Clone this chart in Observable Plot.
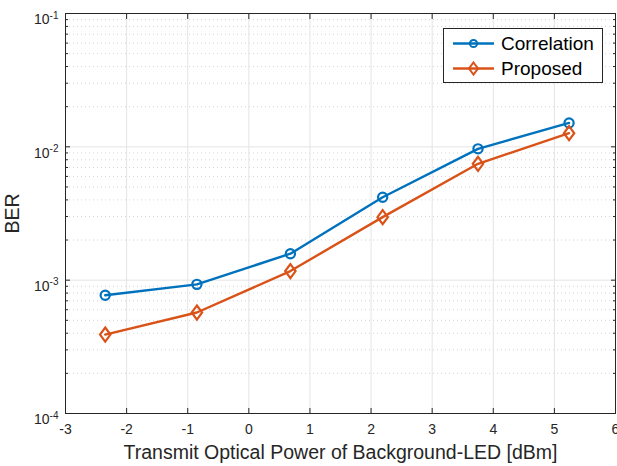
<!DOCTYPE html>
<html>
<head>
<meta charset="utf-8">
<script src="https://cdn.jsdelivr.net/npm/d3@7"></script>
<script src="https://cdn.jsdelivr.net/npm/@observablehq/plot@0.6"></script>
<style>
  html, body { margin: 0; padding: 0; background: #ffffff; }
  #chart svg { display: block; }
</style>
</head>
<body>
<div id="chart"></div>
<script>
// ---- data ----
const powerDbm = [-2.35, -0.85, 0.68, 2.19, 3.75, 5.24];
const correlationBER = [7.7e-4, 9.3e-4, 1.58e-3, 4.19e-3, 9.66e-3, 1.51e-2];
const proposedBER = [3.91e-4, 5.72e-4, 1.17e-3, 2.97e-3, 7.46e-3, 1.265e-2];
const seriesNames = ["Correlation", "Proposed"];
const seriesColors = ["#0072BD", "#D95319"];
const xTicks = [-3, -2, -1, 0, 1, 2, 3, 4, 5, 6];
const yTicks = [1e-4, 1e-3, 1e-2, 1e-1];
const yMinorSteps = [2, 3, 4, 5, 6, 7, 8, 9];
const xLabel = "Transmit Optical Power of Background-LED [dBm]";
const yLabel = "BER";

const yMinor = yTicks.slice(0, -1).flatMap(d => yMinorSteps.map(k => k * d));
const corrRows = powerDbm.map((x, i) => ({x, y: correlationBER[i], s: seriesNames[0]}));
const propRows = powerDbm.map((x, i) => ({x, y: proposedBER[i], s: seriesNames[1]}));
const rows = corrRows.concat(propRows);

// MATLAB-like tall diamond
const tallDiamond = {
  draw(ctx, size) {
    const r = Math.sqrt(size / Math.PI);
    const h = r * 1.35;
    ctx.moveTo(0, -h); ctx.lineTo(r, 0); ctx.lineTo(0, h); ctx.lineTo(-r, 0); ctx.closePath();
  }
};

const W = 617, H = 466;
const axisColor = "#262626";
const font = "'Liberation Sans', Arial, Helvetica, sans-serif";

const chart = Plot.plot({
  width: W, height: H,
  marginLeft: 65, marginRight: 2, marginTop: 13, marginBottom: 53,
  style: {fontFamily: font, fontSize: "14px", color: axisColor, background: "#ffffff", overflow: "visible"},
  x: {domain: [-3, 6]},
  y: {type: "log", domain: [1e-4, 1e-1]},
  color: {domain: seriesNames, range: seriesColors},
  marks: [
    Plot.ruleY(yMinor, {stroke: "#d4d4d4", strokeDasharray: "1,3"}),
    Plot.ruleX(xTicks, {stroke: "#e4e4e4"}),
    Plot.ruleY(yTicks, {stroke: "#e4e4e4"}),
    Plot.line(rows, {x: "x", y: "y", z: "s", stroke: "s", strokeWidth: 2.4}),
    Plot.dot(corrRows, {x: "x", y: "y", stroke: "s", r: 4.6, strokeWidth: 2.2, symbol: "circle", fill: "none"}),
    Plot.dot(propRows, {x: "x", y: "y", stroke: "s", r: 5.2, strokeWidth: 2.2, symbol: tallDiamond, fill: "none"}),
    Plot.frame({stroke: axisColor}),
    Plot.axisX({ticks: xTicks, tickSize: -5, tickPadding: 16, tickFormat: d => String(d),
      fontSize: 14, label: xLabel, labelAnchor: "center", labelOffset: 45, labelArrow: false, stroke: axisColor}),
    Plot.axisX({anchor: "top", ticks: xTicks, tickSize: -5, tickFormat: () => "", label: null, stroke: axisColor}),
    Plot.axisY({ticks: yTicks, tickSize: -5, tickPadding: 12, tickFormat: d => "10^" + Math.round(Math.log10(d)),
      fontSize: 14, label: yLabel, labelAnchor: "center", labelOffset: 60, labelArrow: false, stroke: axisColor}),
    Plot.axisY({ticks: yMinor, tickSize: -3, tickFormat: () => "", label: null, stroke: axisColor}),
    Plot.axisY({anchor: "right", ticks: yTicks, tickSize: -5, tickFormat: () => "", label: null, stroke: axisColor}),
    Plot.axisY({anchor: "right", ticks: yMinor, tickSize: -3, tickFormat: () => "", label: null, stroke: axisColor})
  ]
});

const svg = d3.select(chart);
// axis label font size
svg.selectAll('g[aria-label="x-axis label"] text, g[aria-label="y-axis label"] text')
  .style("font-size", "19.5px");

// superscript exponents on y tick labels
svg.selectAll('g[aria-label="y-axis tick label"] text').each(function() {
  const t = d3.select(this);
  const s = t.text();
  if (!s.startsWith("10^")) return;
  const exp = s.slice(3);
  t.text("");
  t.attr("dy", "0.45em");
  t.append("tspan").text("10");
  t.append("tspan").attr("dy", "-0.55em").style("font-size", "10px").text(exp);
});

// legend
const lg = svg.append("g").attr("aria-label", "legend").attr("font-family", font);
const lx = 443.5, ly = 28.5, lw = 159, lh = 54;
lg.append("rect").attr("x", lx).attr("y", ly).attr("width", lw).attr("height", lh)
  .attr("fill", "#ffffff").attr("stroke", axisColor).attr("stroke-width", 1);
seriesNames.forEach((name, i) => {
  const cy = 43.5 + i * 25;
  const c = seriesColors[i];
  lg.append("line").attr("x1", 453).attr("x2", 494).attr("y1", cy).attr("y2", cy)
    .attr("stroke", c).attr("stroke-width", 2.4);
  if (i === 0) {
    lg.append("circle").attr("cx", 473.5).attr("cy", cy).attr("r", 3.6)
      .attr("fill", "none").attr("stroke", c).attr("stroke-width", 2);
  } else {
    lg.append("path").attr("d", `M473.5,${cy - 6}L478,${cy}L473.5,${cy + 6}L469,${cy}Z`)
      .attr("fill", "none").attr("stroke", c).attr("stroke-width", 2);
  }
  lg.append("text").attr("x", 501).attr("y", cy).attr("dy", "0.35em")
    .attr("text-anchor", "start")
    .attr("font-size", 19).attr("fill", "#000").text(name);
});

document.getElementById("chart").appendChild(chart);
</script>
</body>
</html>
